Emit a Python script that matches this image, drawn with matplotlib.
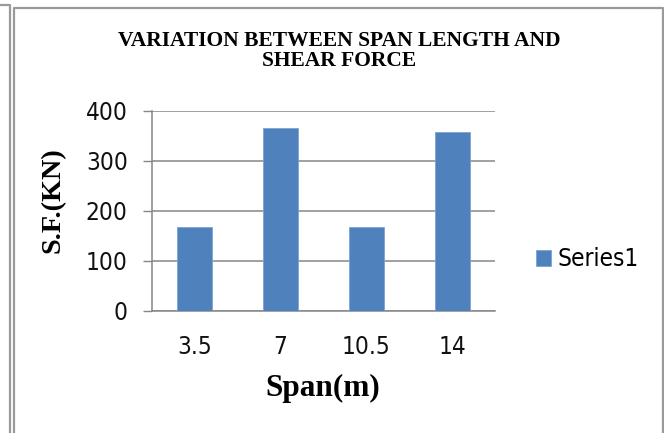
import matplotlib.pyplot as plt
import numpy as np
from matplotlib.lines import Line2D
from matplotlib import font_manager

# данные графика
spans = ['3.5', '7', '10.5', '14']
shear_force = [168, 366, 168, 359]
y_ticks = [0, 100, 200, 300, 400]

W, H = 664, 433
BAR = '#4F81BD'
GRID = '#868686'

# узкий шрифт (как Calibri), если есть
fonts = font_manager.fontManager.ttflist
names = {f.name for f in fonts}
tick_stretch = 'normal'
if 'Liberation Sans Narrow' in names:
    tick_font = ['Liberation Sans Narrow', 'DejaVu Sans']
    tick_size = 19.5
elif any(f.name == 'DejaVu Sans' and f.stretch == 'condensed' for f in fonts):
    tick_font = ['DejaVu Sans']
    tick_stretch = 'condensed'
    tick_size = 17.5
else:
    tick_font = ['Liberation Sans', 'DejaVu Sans']
    tick_size = 17
tick_prop = font_manager.FontProperties(family=tick_font, size=tick_size, stretch=tick_stretch)

fig = plt.figure(figsize=(W / 100, H / 100), dpi=100)
ax = fig.add_axes([152 / W, 1 - 311 / H, 343 / W, 200 / H])

x = np.arange(len(spans))
ax.bar(x, shear_force, width=0.41, color=BAR, edgecolor='#7FA3D3', linewidth=0.6,
       label='Series1', zorder=3)

ax.set_xlim(-0.5, len(spans) - 0.5)
ax.set_ylim(0, 400)
ax.set_yticks(y_ticks)
ax.set_xticks(x)
ax.set_xticklabels(spans)

for lab in ax.get_xticklabels() + ax.get_yticklabels():
    lab.set_fontproperties(tick_prop)
    lab.set_color('#111111')

ax.tick_params(axis='y', length=6.5, width=1.0, color=GRID, pad=11)
ax.tick_params(axis='x', length=0, pad=17)
ax.grid(axis='y', color=GRID, linewidth=1.1, zorder=0)
for side in ['top', 'right']:
    ax.spines[side].set_visible(False)
for side in ['left', 'bottom']:
    ax.spines[side].set_color(GRID)
    ax.spines[side].set_linewidth(1.1)

# заголовок и подписи осей
serif = ['Liberation Serif', 'DejaVu Serif']
fig.text(339.5 / W, 1 - 41.5 / H, 'VARIATION BETWEEN SPAN LENGTH AND', ha='center', va='center',
         family=serif, weight='bold', fontsize=15.5)
fig.text(339.5 / W, 1 - 60.5 / H, 'SHEAR FORCE', ha='center', va='center',
         family=serif, weight='bold', fontsize=15.5)
fig.text(323 / W, 1 - 388 / H, 'Span(m)', ha='center', va='center',
         family=serif, weight='bold', fontsize=22.5)
fig.text(53 / W, 1 - 200 / H, 'S.F.(KN)', ha='center', va='center', rotation=90,
         family=serif, weight='bold', fontsize=20.3)

# легенда
fig.legend(loc='center left', bbox_to_anchor=(536 / W, 1 - 259.5 / H), frameon=False,
           prop=tick_prop, handlelength=0.6, handleheight=0.6,
           handletextpad=0.3, borderpad=0, borderaxespad=0)

# рамки
fr = '#9A9A9A'
fig.add_artist(Line2D([0, 10 / W, 10 / W], [1 - 5 / H, 1 - 5 / H, 0],
                      transform=fig.transFigure, color=fr, linewidth=1.6))
fig.add_artist(Line2D([13.5 / W, 13.5 / W, 662.5 / W, 662.5 / W], [0, 1 - 7.5 / H, 1 - 7.5 / H, 0],
                      transform=fig.transFigure, color=fr, linewidth=1.6))

fig.savefig('out.png', dpi=100)
